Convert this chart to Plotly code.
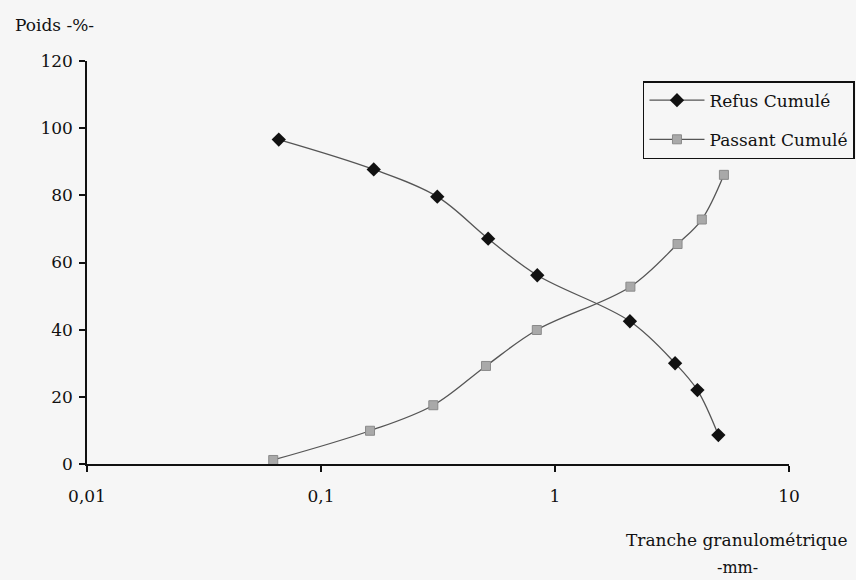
import plotly.graph_objects as go

# Data
refus_x = [0.066, 0.168, 0.314, 0.518, 0.84, 2.09, 3.26, 4.06, 4.99]
refus_y = [96.6, 87.7, 79.6, 67.1, 56.2, 42.5, 30.0, 22.0, 8.6]
passant_x = [0.0625, 0.162, 0.302, 0.507, 0.836, 2.10, 3.34, 4.24, 5.27]
passant_y = [1.2, 9.9, 17.5, 29.2, 39.9, 52.8, 65.5, 72.8, 86.1]

x_tickvals = [0.01, 0.1, 1, 10]
x_ticktext = ["0,01", "0,1", "1", "10"]
y_tickvals = [0, 20, 40, 60, 80, 100, 120]

FONT = "DejaVu Serif"
BG = "#f6f6f6"

fig = go.Figure()
fig.add_trace(go.Scatter(
    x=refus_x, y=refus_y, mode="lines+markers", name="Refus Cumulé",
    legendgroup="r",
    line=dict(color="#555555", width=1.3, shape="spline"),
    marker=dict(symbol="diamond", size=11, color="#111111"),
))
fig.add_trace(go.Scatter(
    x=passant_x, y=passant_y, mode="lines+markers", name="Passant Cumulé",
    legendgroup="p",
    line=dict(color="#555555", width=1.3, shape="spline"),
    marker=dict(symbol="square", size=9, color="#a9a9a9",
                line=dict(color="#8a8a8a", width=1)),
))

fig.update_layout(
    width=856, height=580,
    margin=dict(l=87, r=67, t=61, b=116, autoexpand=False),
    paper_bgcolor=BG, plot_bgcolor=BG,
    font=dict(family=FONT, size=17, color="#111111"),
    showlegend=True,
    legend=dict(
        x=0.792, y=0.95, xanchor="left", yanchor="top",
        bgcolor=BG, bordercolor="#111111", borderwidth=1.5,
        font=dict(family=FONT, size=17, color="#111111"),
        tracegroupgap=14, itemwidth=55,
    ),
    xaxis=dict(
        type="log", range=[-2, 1],
        tickvals=x_tickvals, ticktext=x_ticktext,
        showgrid=False, zeroline=False,
        showline=True, linecolor="#111111", linewidth=1.5,
        ticks="outside", ticklen=6, tickcolor="#111111", tickwidth=1.5,
        ticklabelstandoff=10,
    ),
    yaxis=dict(
        range=[0, 120], tickvals=y_tickvals,
        showgrid=False, zeroline=False,
        showline=True, linecolor="#111111", linewidth=1.5,
        ticks="outside", ticklen=6, tickcolor="#111111", tickwidth=1.5,
        ticklabelstandoff=3,
    ),
    annotations=[
        dict(text="Poids -%-", xref="paper", yref="paper",
             x=-0.106, y=1.089, xanchor="left", yanchor="middle",
             showarrow=False, font=dict(family=FONT, size=17)),
        dict(text="Tranche granulométrique", xref="paper", yref="paper",
             x=0.926, y=-0.189, xanchor="center", yanchor="middle",
             showarrow=False, font=dict(family=FONT, size=17)),
        dict(text="-mm-", xref="paper", yref="paper",
             x=0.926, y=-0.258, xanchor="center", yanchor="middle",
             showarrow=False, font=dict(family=FONT, size=16)),
    ],
)

fig.write_html("out.html")
